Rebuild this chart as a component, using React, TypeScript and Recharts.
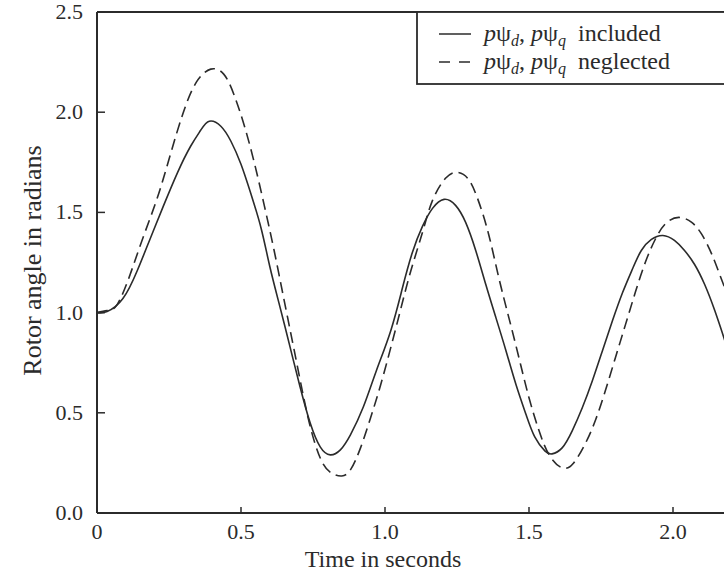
import React from "react";
import { LineChart, Line, XAxis, YAxis, ReferenceLine, Legend } from "recharts";

// rotor angle swing
const includedTime = [
  0, 0.035, 0.09, 0.14, 0.185, 0.23, 0.28, 0.325, 0.36, 0.39, 0.43, 0.465, 0.5, 0.535, 0.57, 0.6,
  0.635, 0.67, 0.705, 0.74, 0.775, 0.81, 0.845, 0.88, 0.925, 0.97, 1.02, 1.06, 1.095, 1.13, 1.165,
  1.205, 1.245, 1.28, 1.315, 1.35, 1.385, 1.42, 1.455, 1.49, 1.52, 1.555, 1.58, 1.615, 1.65, 1.685,
  1.72, 1.755, 1.79, 1.825, 1.86, 1.89, 1.925, 1.965, 2.005, 2.04, 2.075, 2.11, 2.145, 2.18, 2.2,
];
const includedAngle = [
  1.0, 1.005, 1.07, 1.21, 1.37, 1.53, 1.7, 1.83, 1.91, 1.955, 1.93, 1.855, 1.74, 1.59, 1.42, 1.23,
  1.03, 0.83, 0.63, 0.45, 0.33, 0.29, 0.315, 0.39, 0.53, 0.71, 0.91, 1.12, 1.3, 1.43, 1.52,
  1.565, 1.535, 1.45, 1.31, 1.14, 0.975, 0.81, 0.64, 0.49, 0.38, 0.31, 0.295, 0.325, 0.41, 0.525,
  0.66, 0.81, 0.96, 1.1, 1.22, 1.31, 1.365, 1.385, 1.36, 1.31, 1.24, 1.14, 1.01, 0.86, 0.77,
];

const neglectedTime = [
  0, 0.035, 0.07, 0.115, 0.16, 0.21, 0.255, 0.3, 0.345, 0.395, 0.44, 0.475, 0.51, 0.545, 0.58,
  0.615, 0.65, 0.685, 0.72, 0.75, 0.785, 0.82, 0.85, 0.88, 0.915, 0.95, 0.985, 1.02, 1.055, 1.09,
  1.13, 1.165, 1.21, 1.25, 1.29, 1.325, 1.36, 1.395, 1.43, 1.465, 1.5, 1.535, 1.57, 1.615, 1.655,
  1.695, 1.73, 1.765, 1.8, 1.835, 1.87, 1.905, 1.94, 1.975, 2.02, 2.065, 2.1, 2.135, 2.17, 2.2,
];
const neglectedAngle = [
  1.0, 1.01, 1.04, 1.19, 1.375, 1.575, 1.79, 2.0, 2.15, 2.215, 2.19, 2.09, 1.94, 1.755, 1.54,
  1.31, 1.06, 0.81, 0.56, 0.38, 0.245, 0.195, 0.185, 0.215, 0.325, 0.475, 0.64, 0.825, 1.02, 1.21,
  1.4, 1.56, 1.67, 1.7, 1.665, 1.555, 1.39, 1.175, 0.975, 0.775, 0.575, 0.41, 0.29, 0.225, 0.25,
  0.345, 0.46, 0.61, 0.775, 0.94, 1.105, 1.255, 1.37, 1.445, 1.475, 1.45, 1.39, 1.29, 1.16, 1.05,
];

const xTicks = [0, 0.5, 1, 1.5, 2];
const yTicks = [0, 0.5, 1, 1.5, 2, 2.5];

const includedData = includedTime.map((t, i) => ({ t, angle: includedAngle[i] }));
const neglectedData = neglectedTime.map((t, i) => ({ t, angle: neglectedAngle[i] }));

const ink = "#2b2b2b";
const font = "'Liberation Serif', 'Times New Roman', serif";

function XTick(props: any) {
  const { x, y, payload } = props;
  const label = payload.value === 0 ? "0" : Number(payload.value).toFixed(1);
  return (
    <g>
      <line x1={x} x2={x} y1={y} y2={y - 6} stroke={ink} strokeWidth={1.5} />
      <text x={x} y={y + 26} textAnchor="middle" fontFamily={font} fontSize={22} fill={ink}>
        {label}
      </text>
    </g>
  );
}

function YTick(props: any) {
  const { x, y, payload } = props;
  return (
    <g>
      <line x1={x} x2={x + 8} y1={y} y2={y} stroke={ink} strokeWidth={1.5} />
      <text x={x - 14} y={y + 7} textAnchor="end" fontFamily={font} fontSize={22} fill={ink}>
        {Number(payload.value).toFixed(1)}
      </text>
    </g>
  );
}

function PsiText({ y, word }: { y: number; word: string }) {
  return (
    <text x={68} y={y} fontFamily={font} fontSize={24} fill={ink}>
      <tspan fontStyle="italic">p</tspan>ψ
      <tspan fontStyle="italic" fontSize={16} dy={5}>d</tspan>
      <tspan dy={-5}>, </tspan>
      <tspan fontStyle="italic">p</tspan>ψ
      <tspan fontStyle="italic" fontSize={16} dy={5}>q</tspan>
      <tspan dy={-5}>{"\u00a0\u00a0" + word}</tspan>
    </text>
  );
}

function LegendBox() {
  return (
    <svg width={330} height={74} style={{ display: "block" }}>
      <rect x={1} y={1} width={340} height={72} fill="#fff" stroke={ink} strokeWidth={1.8} />
      <line x1={23} x2={55} y1={23} y2={23} stroke={ink} strokeWidth={1.5} />
      <line x1={23} x2={55} y1={51} y2={51} stroke={ink} strokeWidth={1.5} strokeDasharray="11 9" />
      <PsiText y={30} word="included" />
      <PsiText y={58} word="neglected" />
    </svg>
  );
}

export default function App() {
  return (
    <div
      style={{
        position: "absolute",
        left: 0,
        top: 0,
        width: 724,
        height: 573,
        overflow: "hidden",
        background: "#fff",
      }}
    >
      <LineChart width={750} height={573} margin={{ top: 12, right: 5, bottom: 0, left: 0 }}>
        <XAxis
          dataKey="t"
          type="number"
          domain={[0, 2.25]}
          ticks={xTicks}
          height={60}
          tickSize={0}
          tickMargin={0}
          tick={<XTick />}
          axisLine={{ stroke: ink, strokeWidth: 2 }}
          tickLine={false}
          allowDuplicatedCategory={false}
          label={(p: any) => {
            const vb = p.viewBox;
            return (
              <text
                x={vb.x + 286}
                y={vb.y + 54}
                textAnchor="middle"
                fontFamily={font}
                fontSize={24}
                fill={ink}
              >
                Time in seconds
              </text>
            );
          }}
        />
        <YAxis
          type="number"
          domain={[0, 2.5]}
          ticks={yTicks}
          width={97}
          tickSize={0}
          tickMargin={0}
          tick={<YTick />}
          axisLine={{ stroke: ink, strokeWidth: 2 }}
          tickLine={false}
          label={(p: any) => {
            const vb = p.viewBox;
            const cx = vb.x + 41;
            const cy = vb.y + vb.height / 2 - 2;
            return (
              <text
                x={cx}
                y={cy}
                transform={`rotate(-90 ${cx} ${cy})`}
                textAnchor="middle"
                fontFamily={font}
                fontSize={26}
                fill={ink}
              >
                Rotor angle in radians
              </text>
            );
          }}
        />
        <ReferenceLine y={2.5} stroke={ink} strokeWidth={1.8} />
        <Legend
          layout="horizontal"
          verticalAlign="middle"
          align="center"
          content={() => <LegendBox />}
          wrapperStyle={{ position: "absolute", left: 416, top: 11, width: 330, height: 74 }}
        />
        <Line
          data={includedData}
          dataKey="angle"
          name="included"
          type="natural"
          stroke={ink}
          strokeWidth={1.6}
          dot={false}
          isAnimationActive={false}
        />
        <Line
          data={neglectedData}
          dataKey="angle"
          name="neglected"
          type="natural"
          stroke={ink}
          strokeWidth={1.6}
          strokeDasharray="11 6"
          dot={false}
          isAnimationActive={false}
        />
      </LineChart>
    </div>
  );
}
